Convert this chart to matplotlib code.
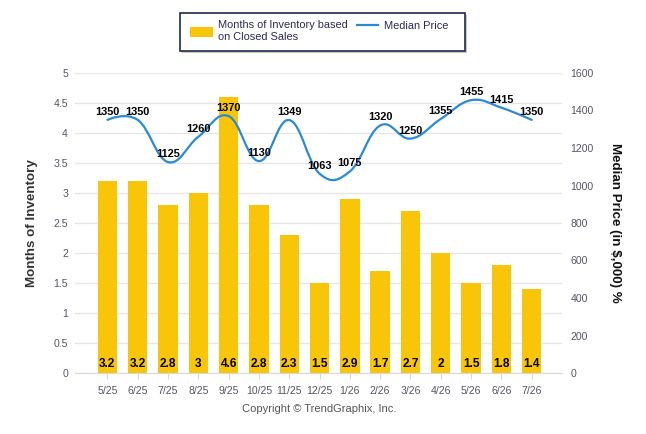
import matplotlib
matplotlib.use("Agg")
import matplotlib.pyplot as plt
from matplotlib.path import Path
from matplotlib.patches import PathPatch, Rectangle
from matplotlib.lines import Line2D

months = ["5/25", "6/25", "7/25", "8/25", "9/25", "10/25", "11/25", "12/25",
          "1/26", "2/26", "3/26", "4/26", "5/26", "6/26", "7/26"]
inventory = [3.2, 3.2, 2.8, 3, 4.6, 2.8, 2.3, 1.5, 2.9, 1.7, 2.7, 2, 1.5, 1.8, 1.4]
price = [1350, 1350, 1125, 1260, 1370, 1130, 1349, 1063, 1075, 1320, 1250, 1355, 1455, 1415, 1350]
inv_ticks = [0, 0.5, 1, 1.5, 2, 2.5, 3, 3.5, 4, 4.5, 5]
price_ticks = [0, 200, 400, 600, 800, 1000, 1200, 1400, 1600]

BAR = "#F9C509"
LINE = "#2A8AD4"
TICK = "#555566"
W, H = 646, 434

plt.rcParams['font.family'] = ['Liberation Sans Narrow', 'Liberation Sans', 'DejaVu Sans']
BOLD = ['Liberation Sans', 'DejaVu Sans']


def fx(x):
    return x / W


def fy(y):
    return 1 - y / H


def spline_path(xs, ys, smoothing=1.5):
    # highcharts style spline (no clamping)
    denom = smoothing + 1
    n = len(xs)
    left = [(xs[i], ys[i]) for i in range(n)]
    right = [(xs[i], ys[i]) for i in range(n)]
    for i in range(1, n - 1):
        lx = (smoothing * xs[i] + xs[i - 1]) / denom
        ly = (smoothing * ys[i] + ys[i - 1]) / denom
        rx = (smoothing * xs[i] + xs[i + 1]) / denom
        ry = (smoothing * ys[i] + ys[i + 1]) / denom
        corr = (ry - ly) * (rx - xs[i]) / (rx - lx) + ys[i] - ry
        left[i] = (lx, ly + corr)
        right[i] = (rx, ry + corr)
    verts = [(xs[0], ys[0])]
    codes = [Path.MOVETO]
    for i in range(1, n):
        verts += [right[i - 1], left[i], (xs[i], ys[i])]
        codes += [Path.CURVE4] * 3
    return Path(verts, codes)


fig = plt.figure(figsize=(W / 100, H / 100), dpi=100)
ax = fig.add_axes([fx(75), fy(373), (562 - 75) / W, 300 / H])
ax2 = ax.twinx()

x = list(range(len(months)))
ax.bar(x, inventory, width=0.64, color=BAR, zorder=2)
ax.set_xlim(-1.07, 15.0)
ax.set_ylim(0, 5)
ax2.set_ylim(0, 1600)

ax.set_axisbelow(True)
ax.yaxis.grid(True, color="#e6e6e6", lw=1)
for s in ["top", "left", "right"]:
    ax.spines[s].set_visible(False)
    ax2.spines[s].set_visible(False)
ax2.spines["bottom"].set_visible(False)
ax.spines["bottom"].set_color("#d8d8d8")

ax.set_yticks(inv_ticks)
ax.set_yticklabels([f"{t:g}" for t in inv_ticks])
ax.tick_params(axis="y", length=0, pad=5, labelcolor=TICK, labelsize=7.6)
ax.set_xticks(x)
ax.set_xticklabels(months)
ax.tick_params(axis="x", length=4, color="#d8d8d8", pad=5, labelcolor=TICK, labelsize=7.6)

ax2.set_yticks(price_ticks)
ax2.tick_params(axis="y", length=0, pad=6, labelcolor=TICK, labelsize=7.6)

ax.set_ylabel("Months of Inventory", family=BOLD, fontweight="bold", fontsize=9.6, color="#333333")
ax.yaxis.set_label_coords((38 - 75) / 487, 0.5)
ax2.set_ylabel("Median Price (in $,000) %", family=BOLD, fontweight="bold", fontsize=9.6,
               color="#111111", rotation=-90, va="center")
ax2.yaxis.set_label_coords((615 - 75) / 487, 0.5)

ax2.add_patch(PathPatch(spline_path(x, price), facecolor="none", edgecolor=LINE, lw=1.6,
                        zorder=3, capstyle="round"))

for i, v in enumerate(inventory):
    ax.annotate(f"{v:g}", (i, 0), xytext=(0, 6.5), textcoords="offset points", ha="center",
                va="center", family=BOLD, fontweight="bold", fontsize=8.6, color="black")
for i, p in enumerate(price):
    ax2.annotate(str(p), (i, p), xytext=(0, 5.8), textcoords="offset points", ha="center",
                 va="center", family=BOLD, fontweight="bold", fontsize=7.9, color="black", zorder=5)

# legend box
fig.patches.append(Rectangle((fx(182), fy(52.5)), (465 - 180) / W, (50.7 - 13.3) / H,
                             transform=fig.transFigure, facecolor="#c8c8c8", edgecolor="none", zorder=0))
fig.patches.append(Rectangle((fx(180), fy(50.7)), (465 - 180) / W, (50.7 - 13.3) / H,
                             transform=fig.transFigure, facecolor="white", edgecolor="#1c2b4f",
                             lw=1.2, zorder=1))
fig.patches.append(Rectangle((fx(190), fy(37)), (212.7 - 190) / W, 10 / H,
                             transform=fig.transFigure, facecolor=BAR, edgecolor="none", zorder=2))
fig.lines.append(Line2D([fx(357), fx(378)], [fy(25), fy(25)], transform=fig.transFigure,
                        color=LINE, lw=1.6, zorder=2))
leg_kw = dict(family=['Liberation Sans', 'DejaVu Sans'], fontsize=7.9, color="#2b2b55", va="center", ha="left")
fig.text(fx(217.7), fy(25), "Months of Inventory based", **leg_kw)
fig.text(fx(217.7), fy(37.3), "on Closed Sales", **leg_kw)
fig.text(fx(384), fy(26), "Median Price", **leg_kw)

fig.text(fx(319), fy(409), "Copyright \u00a9 TrendGraphix, Inc.", family=['Liberation Sans', 'DejaVu Sans'],
         fontsize=8, color="#555555", ha="center", va="center")

fig.savefig("out.png", dpi=100)
